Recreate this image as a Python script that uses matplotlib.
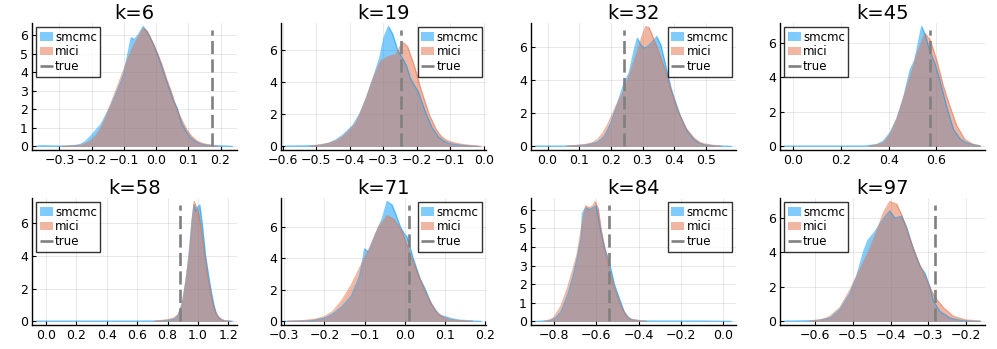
import matplotlib
matplotlib.use("Agg")
import matplotlib.pyplot as plt
from matplotlib.ticker import MultipleLocator, FixedLocator, FuncFormatter

# posterior densities, one block per k
ks = [6, 19, 32, 45, 58, 71, 84, 97]
true_vals = [0.175, -0.248, 0.24, 0.575, 0.88, 0.0106, -0.54, -0.282]

smcmc_x_6 = [-0.37, -0.345, -0.32, -0.28, -0.25, -0.235, -0.22, -0.205, -0.19, -0.17, -0.155, -0.14, -0.12, -0.10,
             -0.087, -0.077, -0.068, -0.055, -0.04, -0.025, -0.008, 0.008, 0.023, 0.043, 0.055, 0.065, 0.08, 0.095,
             0.105, 0.12, 0.135, 0.155, 0.177, 0.2, 0.236]
smcmc_y_6 = [0.02, 0.04, 0.02, 0.02, 0.05, 0.1, 0.25, 0.5, 0.8, 1.2, 1.7, 2.2, 3.0, 3.9, 5.0, 5.85, 5.75, 6.0, 6.45,
             6.1, 5.5, 4.8, 4.0, 3.0, 2.4, 2.1, 1.2, 0.75, 0.5, 0.28, 0.15, 0.08, 0.05, 0.03, 0.0]
mici_x_6 = [-0.29, -0.26, -0.235, -0.205, -0.185, -0.17, -0.155, -0.14, -0.12, -0.105, -0.09, -0.07, -0.055, -0.04,
            -0.03, -0.02, 0.002, 0.018, 0.033, 0.05, 0.064, 0.08, 0.095, 0.11, 0.126, 0.145, 0.165, 0.19]
mici_y_6 = [0.0, 0.02, 0.05, 0.25, 0.6, 1.0, 1.6, 2.3, 3.2, 3.9, 4.6, 5.4, 5.9, 6.35, 6.25, 5.95, 5.1, 4.4, 3.6, 2.8,
            2.0, 1.4, 0.9, 0.55, 0.3, 0.15, 0.07, 0.0]

smcmc_x_19 = [-0.59, -0.55, -0.5, -0.48, -0.46, -0.44, -0.42, -0.405, -0.39, -0.37, -0.35, -0.33, -0.31, -0.297,
              -0.284, -0.272, -0.257, -0.24, -0.23, -0.22, -0.21, -0.195, -0.175, -0.155, -0.135, -0.12, -0.105,
              -0.085, -0.065, -0.04, -0.015]
smcmc_y_19 = [0.02, 0.03, 0.05, 0.1, 0.2, 0.4, 0.7, 1.0, 1.3, 2.0, 3.0, 4.2, 5.5, 6.8, 7.45, 7.0, 6.0, 5.4, 5.0,
              4.3, 3.9, 3.4, 2.2, 1.2, 0.6, 0.35, 0.2, 0.12, 0.07, 0.03, 0.0]
mici_x_19 = [-0.515, -0.49, -0.46, -0.44, -0.42, -0.4, -0.38, -0.365, -0.35, -0.33, -0.307, -0.282, -0.262, -0.25,
             -0.24, -0.227, -0.207, -0.188, -0.163, -0.143, -0.128, -0.113, -0.098, -0.084, -0.065, -0.045, -0.025,
             -0.008]
mici_y_19 = [0.02, 0.08, 0.2, 0.35, 0.6, 1.0, 1.5, 2.2, 3.0, 4.2, 5.3, 5.6, 5.7, 6.2, 6.45, 6.2, 5.0, 3.6, 2.0, 1.1,
             0.65, 0.4, 0.28, 0.2, 0.12, 0.07, 0.03, 0.0]

smcmc_x_32 = [-0.037, 0.0, 0.05, 0.095, 0.126, 0.158, 0.18, 0.2, 0.22, 0.242, 0.258, 0.274, 0.284, 0.295, 0.305,
              0.316, 0.332, 0.345, 0.358, 0.374, 0.39, 0.4, 0.42, 0.442, 0.463, 0.48, 0.495, 0.515, 0.537, 0.58]
smcmc_y_32 = [0.02, 0.02, 0.02, 0.05, 0.1, 0.25, 0.6, 1.4, 2.5, 3.8, 4.4, 5.8, 6.5, 6.1, 5.9, 6.0, 6.3, 6.6, 6.1,
              4.8, 3.5, 2.9, 1.8, 0.9, 0.4, 0.2, 0.1, 0.06, 0.03, 0.0]
mici_x_32 = [0.063, 0.09, 0.116, 0.14, 0.158, 0.175, 0.19, 0.216, 0.242, 0.263, 0.284, 0.3, 0.31, 0.32, 0.326,
             0.347, 0.368, 0.39, 0.41, 0.437, 0.463, 0.48, 0.495, 0.52, 0.547]
mici_y_32 = [0.02, 0.05, 0.1, 0.2, 0.4, 0.8, 1.3, 2.4, 3.4, 4.5, 5.7, 6.7, 7.2, 7.15, 6.9, 5.9, 4.8, 3.4, 2.2, 1.1,
             0.5, 0.25, 0.15, 0.06, 0.02]

smcmc_x_45 = [-0.035, 0.1, 0.2, 0.3, 0.35, 0.378, 0.407, 0.435, 0.463, 0.49, 0.51, 0.525, 0.539, 0.553, 0.574,
              0.595, 0.616, 0.644, 0.672, 0.7, 0.72, 0.742, 0.784]
smcmc_y_45 = [0.02, 0.02, 0.02, 0.02, 0.1, 0.3, 0.8, 1.6, 2.8, 4.4, 5.0, 6.0, 6.95, 6.5, 5.5, 4.8, 3.8, 2.3, 1.0,
              0.45, 0.25, 0.15, 0.03]
mici_x_45 = [0.32, 0.35, 0.378, 0.407, 0.435, 0.463, 0.49, 0.518, 0.553, 0.574, 0.602, 0.63, 0.658, 0.686, 0.72,
             0.756, 0.784]
mici_y_45 = [0.02, 0.08, 0.2, 0.7, 1.6, 2.8, 4.0, 5.3, 6.55, 6.2, 5.0, 3.5, 2.3, 1.2, 0.4, 0.1, 0.02]

smcmc_x_58 = [-0.06, 0.2, 0.4, 0.6, 0.75, 0.8, 0.847, 0.87, 0.89, 0.905, 0.922, 0.935, 0.946, 0.96, 0.974, 0.987,
              1.0, 1.012, 1.03, 1.05, 1.075, 1.09, 1.105, 1.12, 1.14, 1.17, 1.225]
smcmc_y_58 = [0.02, 0.02, 0.02, 0.02, 0.03, 0.06, 0.15, 0.4, 0.8, 1.5, 2.5, 3.5, 4.5, 6.0, 7.1, 6.7, 7.0, 7.1, 5.8,
              4.0, 2.5, 1.7, 1.0, 0.5, 0.2, 0.05, 0.01]
mici_x_58 = [0.717, 0.76, 0.8, 0.84, 0.87, 0.9, 0.922, 0.935, 0.946, 0.963, 0.976, 0.988, 1.0, 1.02, 1.04, 1.063,
             1.08, 1.095, 1.11, 1.127, 1.15, 1.17, 1.214]
mici_y_58 = [0.02, 0.05, 0.1, 0.2, 0.4, 1.2, 2.5, 3.4, 4.3, 6.2, 7.3, 7.0, 6.8, 5.8, 4.3, 2.8, 1.9, 1.2, 0.7, 0.35,
             0.15, 0.05, 0.0]

smcmc_x_71 = [-0.296, -0.26, -0.23, -0.2, -0.18, -0.157, -0.133, -0.113, -0.105, -0.1, -0.09, -0.073, -0.056,
              -0.044, -0.032, -0.024, -0.011, 0.0, 0.005, 0.021, 0.038, 0.05, 0.066, 0.086, 0.1, 0.12, 0.135, 0.153,
              0.19]
smcmc_y_71 = [0.01, 0.03, 0.05, 0.2, 0.45, 0.9, 1.6, 2.8, 3.8, 4.6, 4.4, 5.5, 6.5, 7.6, 7.4, 6.9, 6.0, 5.5, 5.4,
              4.0, 2.7, 2.1, 1.1, 0.4, 0.3, 0.15, 0.08, 0.05, 0.0]
mici_x_71 = [-0.29, -0.25, -0.22, -0.2, -0.18, -0.157, -0.133, -0.11, -0.085, -0.065, -0.044, -0.028, -0.007,
             0.013, 0.033, 0.054, 0.078, 0.1, 0.115, 0.135, 0.168]
mici_y_71 = [0.01, 0.05, 0.15, 0.3, 0.6, 1.3, 2.3, 3.5, 4.8, 6.0, 6.7, 6.5, 5.7, 4.3, 3.0, 1.7, 0.6, 0.2, 0.1, 0.05,
             0.01]

smcmc_x_84 = [-0.885, -0.85, -0.814, -0.79, -0.767, -0.735, -0.712, -0.69, -0.672, -0.665, -0.65, -0.633, -0.617,
              -0.6, -0.594, -0.578, -0.562, -0.539, -0.515, -0.49, -0.468, -0.45, -0.436, -0.39, -0.3, -0.2, -0.1,
              0.036]
smcmc_y_84 = [0.0, 0.02, 0.05, 0.2, 0.5, 1.4, 2.3, 3.4, 4.5, 5.8, 6.1, 6.0, 6.1, 6.2, 5.8, 4.8, 4.0, 3.2, 2.0, 1.2,
              0.5, 0.25, 0.1, 0.03, 0.02, 0.02, 0.02, 0.0]
mici_x_84 = [-0.846, -0.82, -0.8, -0.767, -0.735, -0.712, -0.69, -0.665, -0.65, -0.633, -0.617, -0.605, -0.59,
             -0.578, -0.562, -0.539, -0.515, -0.483, -0.452, -0.43, -0.405, -0.365]
mici_y_84 = [0.0, 0.08, 0.2, 0.8, 1.8, 2.7, 3.6, 5.3, 6.2, 6.1, 6.2, 6.43, 6.0, 5.0, 4.0, 2.8, 1.8, 0.8, 0.2, 0.1,
             0.05, 0.0]

smcmc_x_97 = [-0.68, -0.64, -0.596, -0.56, -0.534, -0.508, -0.49, -0.472, -0.46, -0.441, -0.424, -0.41, -0.402,
              -0.389, -0.371, -0.358, -0.34, -0.322, -0.309, -0.296, -0.287, -0.27, -0.243, -0.22, -0.208, -0.163]
smcmc_y_97 = [0.02, 0.03, 0.05, 0.2, 0.7, 1.6, 2.6, 4.0, 4.7, 5.2, 5.8, 6.2, 6.4, 6.0, 6.1, 5.5, 4.2, 3.2, 2.8, 2.0,
              1.2, 0.6, 0.2, 0.08, 0.05, 0.0]
mici_x_97 = [-0.614, -0.58, -0.56, -0.534, -0.508, -0.481, -0.455, -0.437, -0.419, -0.402, -0.384, -0.371, -0.349,
             -0.327, -0.305, -0.283, -0.26, -0.234, -0.2, -0.163]
mici_y_97 = [0.02, 0.1, 0.3, 0.8, 1.8, 3.0, 4.2, 5.2, 6.3, 6.95, 6.8, 6.2, 4.8, 3.5, 2.4, 1.4, 0.8, 0.3, 0.08, 0.02]

smcmc_x = [smcmc_x_6, smcmc_x_19, smcmc_x_32, smcmc_x_45, smcmc_x_58, smcmc_x_71, smcmc_x_84, smcmc_x_97]
smcmc_y = [smcmc_y_6, smcmc_y_19, smcmc_y_32, smcmc_y_45, smcmc_y_58, smcmc_y_71, smcmc_y_84, smcmc_y_97]
mici_x = [mici_x_6, mici_x_19, mici_x_32, mici_x_45, mici_x_58, mici_x_71, mici_x_84, mici_x_97]
mici_y = [mici_y_6, mici_y_19, mici_y_32, mici_y_45, mici_y_58, mici_y_71, mici_y_84, mici_y_97]

xticks = [
    [-0.3, -0.2, -0.1, 0.0, 0.1, 0.2],
    [-0.6, -0.5, -0.4, -0.3, -0.2, -0.1, 0.0],
    [0.0, 0.1, 0.2, 0.3, 0.4, 0.5],
    [0.0, 0.2, 0.4, 0.6],
    [0.0, 0.2, 0.4, 0.6, 0.8, 1.0, 1.2],
    [-0.3, -0.2, -0.1, 0.0, 0.1, 0.2],
    [-0.8, -0.6, -0.4, -0.2, 0.0],
    [-0.6, -0.5, -0.4, -0.3, -0.2],
]
legend_locs = ["upper left", "upper right", "upper right", "upper left",
               "upper left", "upper right", "upper right", "upper left"]

blue = "#009AFA"
orange = "#E36F47"

W, H = 997, 349
fig = plt.figure(figsize=(W / 100, H / 100), dpi=100)

lefts = [32, 281, 531, 780]
tops = [23, 198]
aw, ah = 205, 127


def fmt(v, pos):
    s = "%.1f" % v
    if s == "-0.0":
        s = "0.0"
    return s.replace("-", "\u2212")


for i, k in enumerate(ks):
    r, c = divmod(i, 4)
    ax = fig.add_axes([lefts[c] / W, 1 - (tops[r] + ah) / H, aw / W, ah / H])

    ax.fill_between(smcmc_x[i], 0, smcmc_y[i], color=blue, alpha=0.5, lw=0, label="smcmc")
    ax.plot(smcmc_x[i], smcmc_y[i], color=blue, alpha=0.5, lw=1)
    ax.fill_between(mici_x[i], 0, mici_y[i], color=orange, alpha=0.5, lw=0, label="mici")
    ax.plot(mici_x[i], mici_y[i], color=orange, alpha=0.5, lw=1)

    m = max(max(smcmc_y[i]), max(mici_y[i]))
    ax.plot([true_vals[i], true_vals[i]], [0, 0.97 * m], color="gray", lw=1.9,
            ls=(0, (5, 2)), label="true")

    xs = smcmc_x[i] + mici_x[i]
    lo, hi = min(xs), max(xs)
    pad = 0.025 * (hi - lo)
    ax.set_xlim(lo - pad, hi + pad)
    ax.set_ylim(-0.03 * m, 1.03 * m)

    ax.xaxis.set_major_locator(FixedLocator(xticks[i]))
    ax.xaxis.set_major_formatter(FuncFormatter(fmt))
    ax.yaxis.set_major_locator(MultipleLocator(1 if m < 6.5 else 2))

    ax.grid(True, color="k", alpha=0.1, lw=0.6)
    ax.set_axisbelow(True)
    for s in ["top", "right"]:
        ax.spines[s].set_visible(False)
    for s in ["left", "bottom"]:
        ax.spines[s].set_linewidth(1.0)
    ax.tick_params(direction="in", length=3, width=0.8, labelsize=9, pad=3)

    ax.set_title("k=%d" % k, fontsize=14, pad=3)

    leg = ax.legend(loc=legend_locs[i], fontsize=8.5, frameon=True, fancybox=False,
                    handlelength=1.1, handletextpad=0.2, labelspacing=0.15,
                    borderpad=0.3, borderaxespad=0.35)
    leg.get_frame().set_edgecolor("black")
    leg.get_frame().set_linewidth(1.0)

fig.savefig("out.png", dpi=100)
